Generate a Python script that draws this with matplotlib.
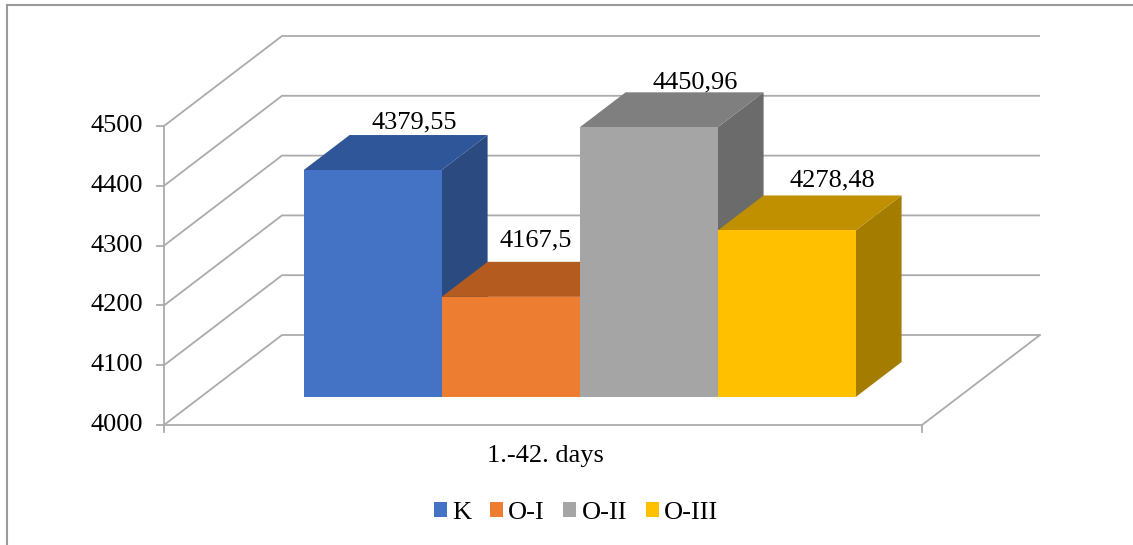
import matplotlib
matplotlib.use("Agg")
import matplotlib.pyplot as plt
from matplotlib.patches import Polygon, Patch
from matplotlib.transforms import offset_copy

# ---- data ----
series = ["K", "O-I", "O-II", "O-III"]
values = [4379.55, 4167.5, 4450.96, 4278.48]
value_labels = ["4379,55", "4167,5", "4450,96", "4278,48"]
category = "1.-42. days"
y_ticks = [4000, 4100, 4200, 4300, 4400, 4500]

# ---- style ----
front_colors = ["#4472C4", "#ED7D31", "#A5A5A5", "#FFC000"]
top_colors = ["#30569A", "#B45B20", "#7F7F7F", "#C09000"]
side_colors = ["#2A4A80", "#9E4F1C", "#6B6B6B", "#A47D00"]
label_offsets = [(-4, 7), (-21, 15), (1, 4), (0, 9)]  # dots
grid_color = "#ABABAB"
FONT = ["Liberation Serif", "DejaVu Serif"]
plt.rcParams["font.family"] = FONT
FS = 19

W, H, DPI = 1133, 545, 100
fig = plt.figure(figsize=(W / DPI, H / DPI), dpi=DPI)
ax = fig.add_axes([0, 0, 1, 1])
ax.set_axis_off()

# layout: front plane mapping (pixels)
px_per_unit_x = 758.0        # one category width in pixels
cx_px = 543.0                # category centre pixel
px_per_val = 299.0 / 500.0   # pixels per value unit
base_px = 425.0              # pixel row of 4000 on front plane
ymin = y_ticks[0]
ax.set_xlim((0 - cx_px) / px_per_unit_x, (W - cx_px) / px_per_unit_x)
ax.set_ylim(ymin - (H - base_px) / px_per_val, ymin + base_px / px_per_val)

DX = 118.0 / px_per_unit_x   # full depth offset, x units
DY = 90.0 / px_per_val       # full depth offset, value units

def P(x, v, z):
    return (x + z * DX, v + z * DY)

# walls / grid
lw = 1.3
for v in y_ticks:
    xs, ys = zip(P(-0.5, v, 0), P(-0.5, v, 1), P(0.5, v, 1))
    ax.plot(xs, ys, color=grid_color, lw=lw, zorder=1, solid_capstyle="butt")
# front left axis
ax.plot([-0.5, -0.5], [y_ticks[0], y_ticks[-1]], color=grid_color, lw=lw, zorder=1)
tick_len = 7.0 / px_per_unit_x
for v in y_ticks:
    ax.plot([-0.5 - tick_len, -0.5], [v, v], color=grid_color, lw=lw, zorder=1)
# floor
xs, ys = zip(P(-0.5, ymin, 0), P(0.5, ymin, 0), P(0.5, ymin, 1))
ax.plot(xs, ys, color=grid_color, lw=lw, zorder=1)
tick_v = 7.0 / px_per_val
for xe in (-0.5, 0.5):
    ax.plot([xe, xe], [ymin, ymin - tick_v], color=grid_color, lw=lw, zorder=1)

# y tick labels
for v in y_ticks:
    ax.text(-0.5 - 21.0 / px_per_unit_x, v, str(v), ha="right", va="center",
            fontsize=FS, color="#000000")

# bars
n = len(values)
bar_w = 138.0 / px_per_unit_x
group_w = bar_w * n
z0, z1 = 0.311, 0.70
for i, (val, lab) in enumerate(zip(values, value_labels)):
    x0 = -group_w / 2 + i * bar_w
    x1 = x0 + bar_w
    side = [P(x1, ymin, z0), P(x1, val, z0), P(x1, val, z1), P(x1, ymin, z1)]
    top = [P(x0, val, z0), P(x1, val, z0), P(x1, val, z1), P(x0, val, z1)]
    front = [P(x0, ymin, z0), P(x1, ymin, z0), P(x1, val, z0), P(x0, val, z0)]
    zb = 2 + i
    ax.add_patch(Polygon(side, closed=True, facecolor=side_colors[i], edgecolor="none", zorder=zb))
    ax.add_patch(Polygon(top, closed=True, facecolor=top_colors[i], edgecolor="none", zorder=zb))
    ax.add_patch(Polygon(front, closed=True, facecolor=front_colors[i], edgecolor="none", zorder=zb))
    lx, ly = P((x0 + x1) / 2, val, z1)
    dx, dy = label_offsets[i]
    tr = offset_copy(ax.transData, fig=fig, x=dx, y=dy, units="dots")
    ax.text(lx, ly, lab, transform=tr, ha="center", va="baseline",
            fontsize=FS, color="#000000", zorder=10)

# category label
trc = offset_copy(ax.transData, fig=fig, x=2, y=-31, units="dots")
ax.text(0, ymin, category, transform=trc, ha="center", va="center", fontsize=FS)

# legend
handles = [Patch(facecolor=c, edgecolor="none", label=s) for c, s in zip(front_colors, series)]
fig.legend(handles=handles, loc="center", bbox_to_anchor=(576.0 / W, 1 - 513.0 / H),
           ncol=4, frameon=False, fontsize=FS, handlelength=0.5, handleheight=0.5,
           handletextpad=0.2, columnspacing=0.7)

# chart border (cropped)
xl, yl = ax.get_xlim(), ax.get_ylim()
bx = xl[0] + 6.5 / px_per_unit_x
by = yl[1] - 4.5 / px_per_val
ax.plot([bx, xl[1]], [by, by], color="#9A9A9A", lw=1.5, zorder=0)
ax.plot([bx, bx], [yl[0], by], color="#9A9A9A", lw=1.5, zorder=0)

fig.savefig("out.png", dpi=DPI)
